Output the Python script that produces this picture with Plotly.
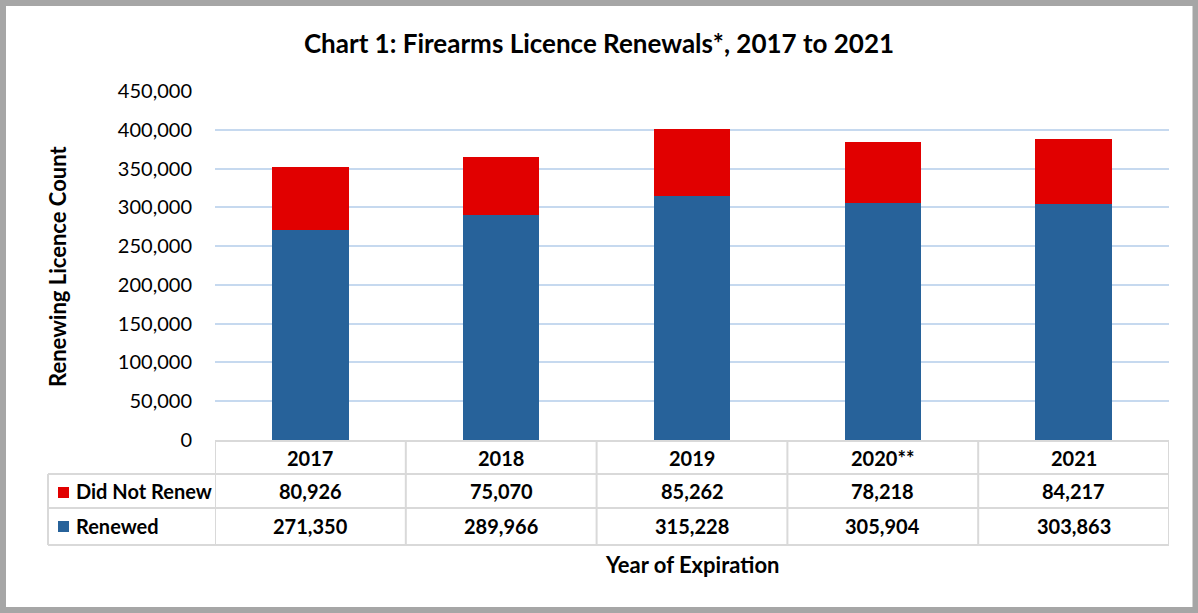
import plotly.graph_objects as go

years = ["2017", "2018", "2019", "2020**", "2021"]
renewed = [271350, 289966, 315228, 305904, 303863]
did_not_renew = [80926, 75070, 85262, 78218, 84217]
series_names = ["Did Not Renew", "Renewed"]
y_ticks = [0, 50000, 100000, 150000, 200000, 250000, 300000, 350000, 400000, 450000]

BLUE = "#27629a"
RED = "#e10000"
FONT = "Lato"
GRID = "#c6d9ef"
TLINE = "#d9d9d9"

W, H = 1198, 613
L, R, T, B = 215, 1169, 91, 440  # plot area in pixels


def px(x):
    return (x - L) / (R - L)


def py(y):
    return (B - y) / (B - T)


fig = go.Figure()
fig.add_trace(go.Bar(x=years, y=renewed, name=series_names[1], marker=dict(color=BLUE, line=dict(width=0)), width=0.4))
fig.add_trace(go.Bar(x=years, y=did_not_renew, name=series_names[0], marker=dict(color=RED, line=dict(width=0)), width=0.4))

shapes = []
# outer border
shapes.append(dict(type="rect", xref="paper", yref="paper", x0=px(3), x1=px(1195.5), y0=py(3), y1=py(610),
                   line=dict(color="#a6a6a6", width=6), layer="above"))
# table horizontal lines
line = dict(color=TLINE, width=2)
shapes.append(dict(type="line", xref="paper", yref="paper", x0=0, x1=1, y0=py(441), y1=py(441), line=line))
for yy in (474, 508, 545):
    shapes.append(dict(type="line", xref="paper", yref="paper", x0=px(48), x1=1, y0=py(yy), y1=py(yy), line=line))
# vertical lines
shapes.append(dict(type="line", xref="paper", yref="paper", x0=px(48), x1=px(48), y0=py(474), y1=py(545), line=line))
for i in range(len(years) + 1):
    shapes.append(dict(type="line", xref="x", yref="paper", x0=i - 0.5, x1=i - 0.5, y0=py(441), y1=py(545), line=line))
# legend keys
shapes.append(dict(type="rect", xref="paper", yref="paper", x0=px(58), x1=px(69), y0=py(487), y1=py(498),
                   fillcolor=RED, line=dict(width=0)))
shapes.append(dict(type="rect", xref="paper", yref="paper", x0=px(58), x1=px(69), y0=py(521), y1=py(532),
                   fillcolor=BLUE, line=dict(width=0)))

ann = []
tf = dict(family=FONT, size=20, color="#000000")
common = dict(showarrow=False, yanchor="middle")
for i, yr in enumerate(years):
    ann.append(dict(x=i, y=py(458), xref="x", yref="paper", text=f"<b>{yr}</b>", font=tf, **common))
    ann.append(dict(x=i, y=py(491), xref="x", yref="paper", text=f"<b>{did_not_renew[i]:,}</b>", font=tf, **common))
    ann.append(dict(x=i, y=py(526), xref="x", yref="paper", text=f"<b>{renewed[i]:,}</b>", font=tf, **common))
ann.append(dict(x=px(74), y=py(491), xref="paper", yref="paper", text=f"<b>{series_names[0]}</b>",
                xanchor="left", font=tf, **common))
ann.append(dict(x=px(74), y=py(526), xref="paper", yref="paper", text=f"<b>{series_names[1]}</b>",
                xanchor="left", font=tf, **common))
ann.append(dict(x=0.5, y=py(564), xref="paper", yref="paper", text="<b>Year of Expiration</b>",
                font=dict(family=FONT, size=22, color="#000000"), **common))
ann.append(dict(x=px(57), y=py(267), xref="paper", yref="paper", text="<b>Renewing Licence Count</b>",
                textangle=-90, xanchor="center", font=dict(family=FONT, size=22, color="#000000"), **common))

fig.update_layout(
    width=W, height=H,
    margin=dict(l=L, r=W - R, t=T, b=H - B, pad=0),
    paper_bgcolor="white", plot_bgcolor="white",
    barmode="stack", showlegend=False,
    title=dict(text="<b>Chart 1: Firearms Licence Renewals*, 2017 to 2021</b>", x=0.5, xanchor="center",
               y=1 - 44 / H, yanchor="middle", font=dict(family=FONT, size=26, color="#000000")),
    xaxis=dict(showticklabels=False, showgrid=False, zeroline=False, showline=False, ticks="",
               range=[-0.5, len(years) - 0.5]),
    yaxis=dict(range=[0, 450000], tickvals=y_ticks, tickformat=",d", showgrid=True, gridcolor=GRID, gridwidth=2,
               zeroline=False, showline=False, ticks="", ticklabelstandoff=22,
               tickfont=dict(family=FONT, size=20, color="#000000")),
    shapes=shapes,
    annotations=ann,
)

fig.write_html("out.html")
